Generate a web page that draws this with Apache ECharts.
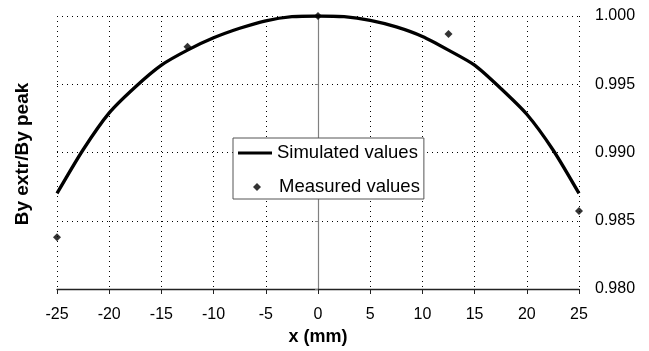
<!DOCTYPE html>
<html>
<head>
<meta charset="utf-8">
<script src="https://cdn.jsdelivr.net/npm/echarts@6/dist/echarts.min.js"></script>
<style>
html,body{margin:0;padding:0;background:#fff;}
#chart{width:649px;height:351px;}
</style>
</head>
<body>
<div id="chart"></div>
<script>
var simX = [-25, -22.5, -20, -17.5, -15, -12.5, -10, -7.5, -5, -2.5, 0, 2.5, 5, 7.5, 10, 12.5, 15, 17.5, 20, 22.5, 25];
var simY = [0.9870, 0.9902, 0.9929, 0.9948, 0.9964, 0.9975, 0.9984, 0.9991, 0.99965, 0.99995, 1.0000, 0.99995, 0.99968, 0.9992, 0.9985, 0.9975, 0.9964, 0.9947, 0.9928, 0.9902, 0.9870];
var measX = [-25, -12.5, 0, 12.5, 25];
var measY = [0.98379, 0.99775, 1.0000, 0.99868, 0.98571];
var xTicks = [-25, -20, -15, -10, -5, 0, 5, 10, 15, 20, 25];
var yTicks = [0.980, 0.985, 0.990, 0.995, 1.000];

var FONT = 'Liberation Sans, Arial, sans-serif';
var simData = simX.map(function (x, i) { return [x, simY[i]]; });
var measData = measX.map(function (x, i) { return [x, measY[i]]; });

var chart = echarts.init(document.getElementById('chart'), null, {renderer: 'canvas'});
var gridStyle = {show: true, lineStyle: {color: '#000', width: 1, type: [1, 4]}};
var legendText = {fontFamily: FONT, fontSize: 18.5, color: '#000', lineHeight: 20};
chart.setOption({
  animation: false,
  backgroundColor: '#fff',
  grid: {left: 57, right: 70, top: 16, bottom: 62, containLabel: false},
  xAxis: {
    type: 'value',
    min: xTicks[0], max: xTicks[xTicks.length - 1], interval: 5,
    name: 'x (mm)', nameLocation: 'middle', nameGap: 38,
    nameTextStyle: {fontFamily: FONT, fontSize: 18, fontWeight: 'bold', color: '#000'},
    axisLine: {show: true, onZero: false, lineStyle: {color: '#222', width: 1.3}},
    axisTick: {show: true, length: 5, lineStyle: {color: '#222', width: 1}},
    axisLabel: {fontFamily: FONT, fontSize: 16, color: '#000', margin: 18},
    splitLine: gridStyle
  },
  yAxis: [{
    type: 'value', position: 'left',
    min: yTicks[0], max: yTicks[yTicks.length - 1], interval: 0.005,
    axisLine: {show: true, onZero: true, lineStyle: {color: '#808080', width: 1.2}},
    axisTick: {show: true, length: 3, lineStyle: {color: '#808080'}},
    axisLabel: {show: false},
    splitLine: gridStyle
  }, {
    type: 'value', position: 'right',
    min: yTicks[0], max: yTicks[yTicks.length - 1], interval: 0.005,
    axisLine: {show: false},
    axisTick: {show: false},
    axisLabel: {fontFamily: FONT, fontSize: 16, color: '#000', margin: 16,
      formatter: function (v) { return v.toFixed(3); }},
    splitLine: {show: false}
  }],
  legend: [{
    orient: 'vertical',
    left: 233, top: 138,
    padding: [5, 6, 36, 5],
    itemWidth: 34, itemHeight: 3,
    backgroundColor: '#fff',
    borderColor: '#555', borderWidth: 1,
    textStyle: legendText,
    data: [{name: 'Simulated values', icon: 'rect', itemStyle: {color: '#000'}}],
    z: 5
  }, {
    orient: 'vertical',
    left: 253, top: 177,
    padding: 0,
    itemWidth: 8, itemHeight: 8,
    textStyle: Object.assign({padding: [0, 0, 0, 13]}, legendText),
    data: [{name: 'Measured values', icon: 'diamond', itemStyle: {color: '#000'}}],
    z: 6
  }],
  graphic: [{
    type: 'text', x: 23, y: 154, rotation: Math.PI / 2,
    style: {text: 'By extr/By peak', font: 'bold 19px ' + FONT, fill: '#000',
      textAlign: 'center', textVerticalAlign: 'middle'}
  }],
  series: [{
    name: 'Simulated values', type: 'line', data: simData,
    showSymbol: false, symbol: 'none', smooth: 0.25,
    lineStyle: {color: '#000', width: 3.3},
    itemStyle: {color: '#000'}, z: 3
  }, {
    name: 'Measured values', type: 'scatter', data: measData,
    symbol: 'diamond', symbolSize: 8,
    itemStyle: {color: '#000'}, z: 4
  }]
});
</script>
</body>
</html>
